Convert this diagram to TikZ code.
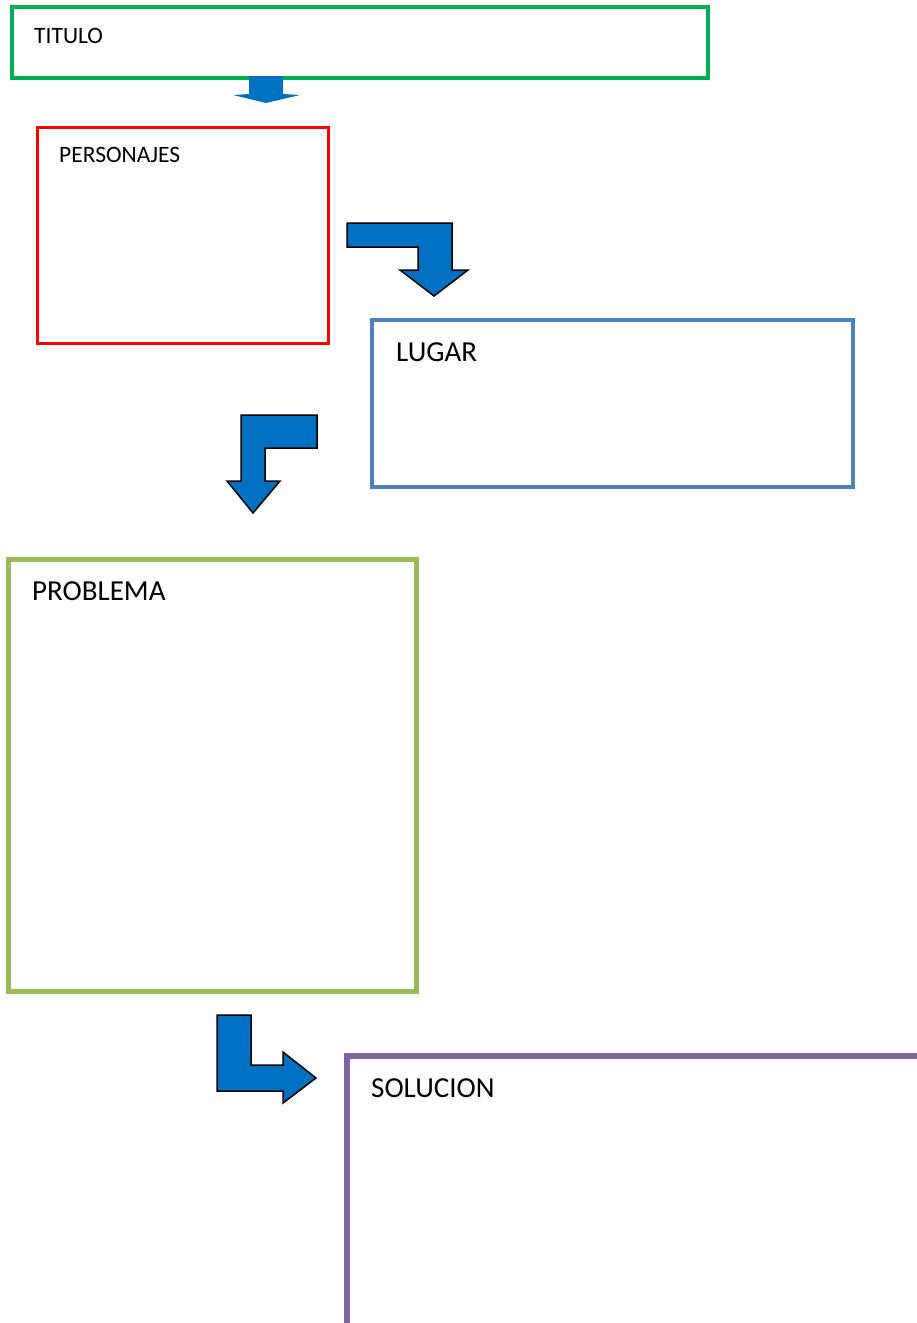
\documentclass[tikz,border=0pt]{standalone}
\usepackage{fontspec}
\setmainfont{Carlito}
\definecolor{titgreen}{HTML}{00B050}
\definecolor{perred}{HTML}{FF0000}
\definecolor{lugblue}{HTML}{4F81BD}
\definecolor{probgreen}{HTML}{9BBB59}
\definecolor{solpurple}{HTML}{8064A2}
\definecolor{arrblue}{HTML}{0070C0}
\tikzset{
  lbl/.style={anchor=base west, inner sep=0pt, text=black},
  small/.style={font=\fontsize{23.5}{26}\selectfont},
  big/.style={font=\fontsize{29}{32}\selectfont},
  boxnode/.style={draw, rectangle, inner sep=0pt, minimum width=0pt},
  blockarrow/.style={fill=arrblue, draw=black, line width=1.5pt, line join=miter},
}
\begin{document}
\begin{tikzpicture}[x=1pt,y=-1pt]
\useasboundingbox (0,0) rectangle (916,1323);
% boxes
\draw[titgreen, line width=3.5pt] (12,7) rectangle (708,78);
\node[lbl, small] (titulo) at (34,43) {TITULO};
\draw[perred, line width=3pt] (37,127) rectangle (328,343);
\node[lbl, small] (personajes) at (59,162) {PERSONAJES};
\draw[lugblue, line width=4.5pt] (372,320) rectangle (853,487);
\node[lbl, big] (lugar) at (396,361) {LUGAR};
\draw[probgreen, line width=5pt] (8,559) rectangle (416,991);
\node[lbl, big] (problema) at (32,600) {PROBLEMA};
\draw[solpurple, line width=6pt] (347,1330) -- (347,1056) -- (925,1056);
\node[lbl, big] (solucion) at (371,1097) {SOLUCION};
% arrows
\fill[arrblue] (249,76) -- (283,76) -- (283,94) -- (300,95) -- (266,103) -- (233,95) -- (249,94) -- cycle;
\draw[blockarrow] (347,223) -- (452,223) -- (452,270) -- (468,270) -- (434,296) -- (400,270) -- (418,270) -- (418,247) -- (347,247) -- cycle;
\draw[blockarrow] (317,415) -- (241,415) -- (241,481) -- (227,481) -- (253,513) -- (280,481) -- (265,481) -- (265,448) -- (317,448) -- cycle;
\draw[blockarrow] (217,1015) -- (251,1015) -- (251,1065) -- (283,1065) -- (283,1052) -- (316,1078) -- (283,1103) -- (283,1091) -- (217,1091) -- cycle;
\end{tikzpicture}
\end{document}
